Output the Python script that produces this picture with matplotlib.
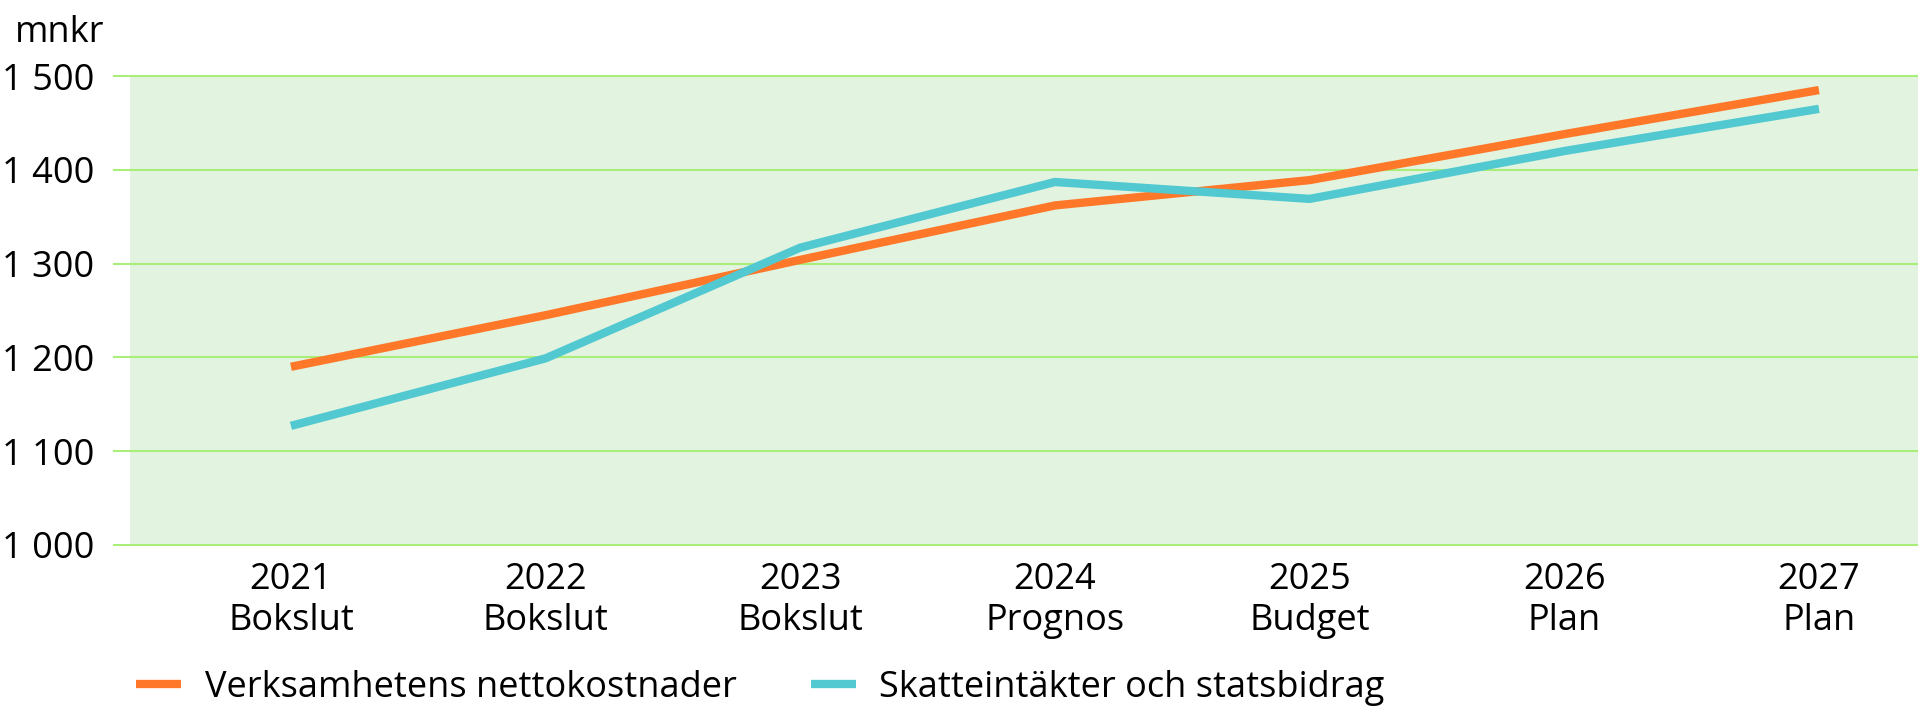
import matplotlib
matplotlib.use("Agg")
import matplotlib.pyplot as plt

# chart data
years = ["2021", "2022", "2023", "2024", "2025", "2026", "2027"]
phases = ["Bokslut", "Bokslut", "Bokslut", "Prognos", "Budget", "Plan", "Plan"]
netto = [1190, 1245, 1304, 1362, 1389, 1438, 1485]
skatt = [1127, 1199, 1317, 1387, 1369, 1420, 1465]
y_ticks = [1000, 1100, 1200, 1300, 1400, 1500]
labels = ["Verksamhetens nettokostnader", "Skatteintäkter och statsbidrag"]

ORANGE = "#ff7829"
CYAN = "#52c9d1"
FILL = "#e2f3e0"
GRID = "#a9ee78"

plt.rcParams["font.family"] = ["Open Sans", "DejaVu Sans"]

W, H = 1918, 722
fig = plt.figure(figsize=(W / 100, H / 100), dpi=100)
ax = fig.add_axes([130 / W, 1 - 545 / H, (W - 130) / W, (545 - 76) / H])
ax.set_facecolor(FILL)

x = list(range(len(years)))
ax.plot(x, netto, color=ORANGE, lw=6, solid_capstyle="butt", zorder=3, label=labels[0])
ax.plot(x, skatt, color=CYAN, lw=6, solid_capstyle="butt", zorder=3, label=labels[1])

for v in y_ticks:
    ax.axhline(v, xmin=-0.009, xmax=1, color=GRID, lw=1.5, clip_on=False, zorder=1)

ax.set_xlim(-0.632, 6.389)
ax.set_ylim(1000, 1500)
ax.set_yticks(y_ticks)
ax.set_yticklabels([f"{v:,}".replace(",", " ") for v in y_ticks], fontsize=26)
ax.set_xticks(x)
ax.set_xticklabels([f"{y}\n{p}" for y, p in zip(years, phases)], fontsize=26,
                   linespacing=1.2)
ax.tick_params(length=0, pad=12)
ax.tick_params(axis="y", pad=26)
for s in ax.spines.values():
    s.set_visible(False)

fig.text(15 / W, 1 - 42 / H, "mnkr", fontsize=26, ha="left", va="baseline")

fig.legend(loc="center left", bbox_to_anchor=(118 / W, 1 - 688 / H), ncol=2,
           frameon=False, fontsize=26, handlelength=1.25, handletextpad=0.65,
           columnspacing=2.05, borderpad=0)

fig.savefig("out.png", dpi=100)
